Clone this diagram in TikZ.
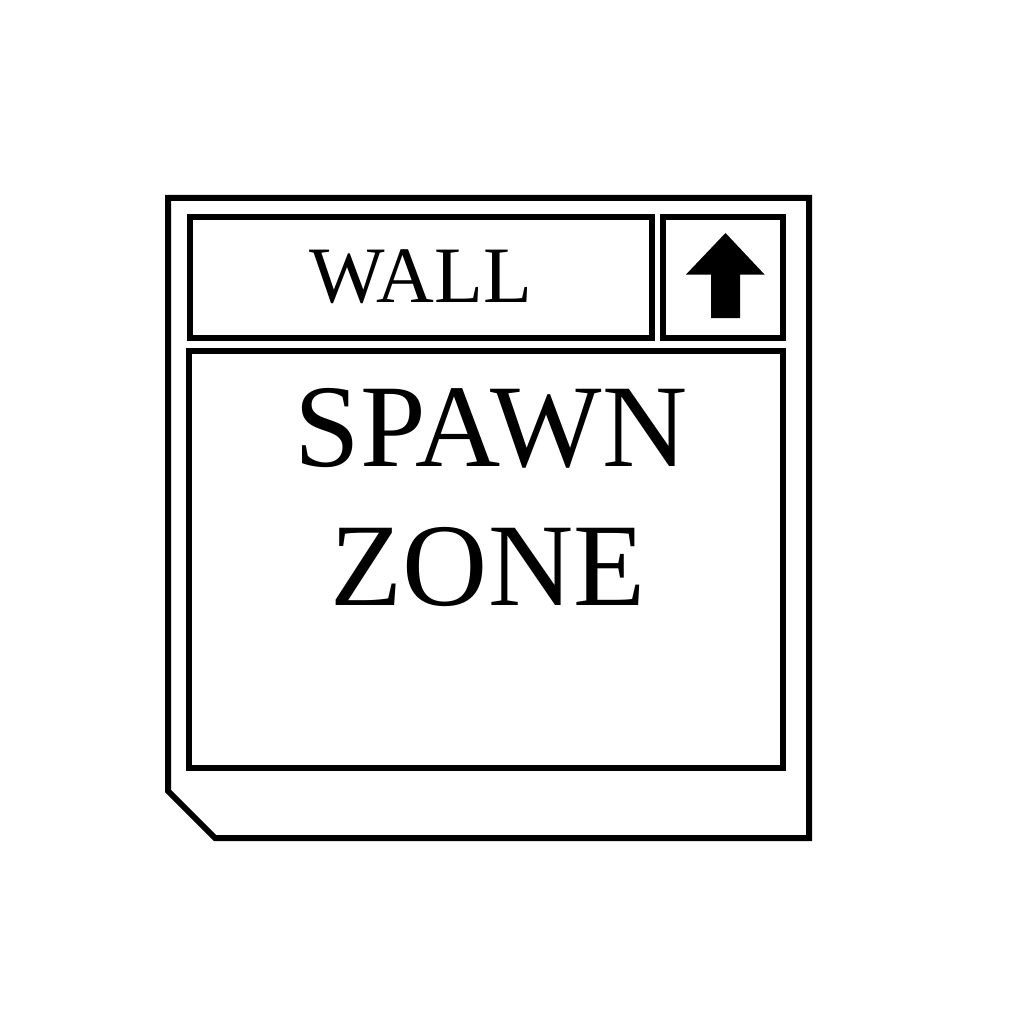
\documentclass[tikz,border=0pt]{standalone}
\usepackage{fontspec}
\setmainfont{Liberation Serif}
\begin{document}
\begin{tikzpicture}[x=1pt,y=-1pt,
  frame/.style={draw=black, line width=6pt, miter limit=10},
  panel/.style={frame, rectangle, inner sep=0pt, outer sep=0pt},
  walltext/.style={font=\fontsize{80}{96}\selectfont, inner sep=0pt, anchor=base},
  zonetext/.style={font=\fontsize{118}{138}\selectfont, inner sep=0pt, anchor=base}]
\useasboundingbox (0,0) rectangle (1024,1024);
% outer chamfered frame
\draw[frame] (168,198) coordinate (o1) -- (809,198) coordinate (o2) -- (809,838) coordinate (o3) -- (215,838) coordinate (o4) -- (168,791) coordinate (o5) -- cycle;
% panels
\node[panel, minimum width=462pt, minimum height=120pt] (wall) at (420.5,277.5) {};
\node[panel, minimum width=120pt, minimum height=120pt] (arrowbox) at (723,277.5) {};
\node[panel, minimum width=594pt, minimum height=417pt] (spawn) at (486,559.5) {};
% texts
\node[walltext] (walllbl) at (421,302) {WALL};
\node[zonetext] (spawnlbl) at (491,466) {SPAWN};
\node[zonetext] (zonelbl) at (488,605) {ZONE};
% up arrow
\fill[black] (725.5,233) -- (764.5,274.5) -- (740,274.5) -- (740,318) -- (711,318) -- (711,274.5) -- (686,274.5) -- cycle;
\end{tikzpicture}
\end{document}
